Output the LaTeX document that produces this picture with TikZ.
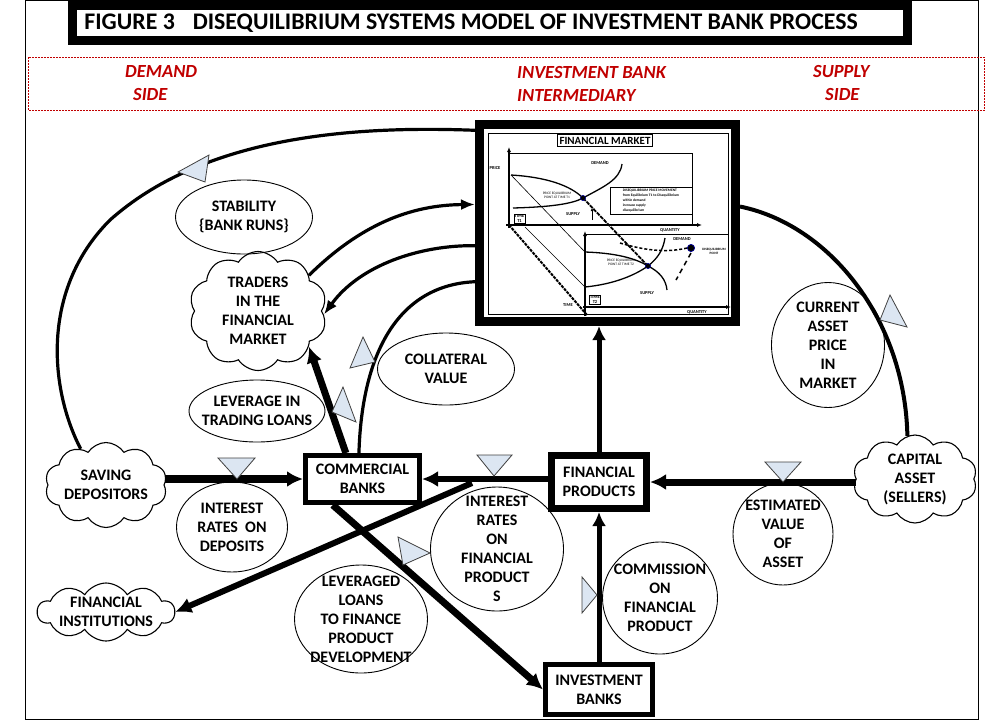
\documentclass[tikz,border=0pt]{standalone}
\usepackage{fontspec}
\setmainfont{Carlito}
\usetikzlibrary{arrows.meta,positioning,calc,shapes.geometric,shapes.symbols,backgrounds}
\definecolor{valveblue}{HTML}{DCE6F2}
\definecolor{sidered}{HTML}{C00000}
\newcommand{\nodefont}{\fontsize{16}{19}\selectfont\bfseries}
\newcommand{\sidefont}{\fontsize{18.5}{23}\selectfont\bfseries\itshape}
\newcommand{\headfont}{\fontsize{23.8}{28}\selectfont\bfseries}
\tikzset{
  bankbox/.style={draw=black, fill=white, align=center, inner sep=2pt, font=\nodefont},
  oval/.style={ellipse, draw=black, line width=0.9pt, align=center, inner sep=-20pt, font=\nodefont},
  puff/.style={cloud, cloud puffs=10, cloud puff arc=115, cloud ignores aspect, draw=black, line width=1.1pt, align=center, inner sep=-10pt, font=\nodefont},
  flow/.style={-{Latex[length=16pt,width=16pt]}, line width=7pt},
  curvelink/.style={line width=3.2pt},
  curvearrow/.style={-{Latex[length=14pt,width=11pt]}, line width=3.2pt},
  valve/.style={draw=black!75, fill=valveblue, line width=0.8pt, line join=miter},
  sidelabel/.style={anchor=west, align=left, inner sep=0pt, text=sidered, font=\sidefont},
  chartaxis/.style={-{Latex[length=5pt,width=4pt]}, line width=1.2pt},
  charttext/.style={font=\fontsize{4.5}{5}\selectfont\bfseries, align=center, inner sep=0.5pt}
}
\begin{document}
\begin{tikzpicture}[x=1pt,y=-1pt]
\useasboundingbox (0,0) rectangle (985,721);
\draw[line width=0.8pt] (25,0) rectangle (978,719);
% title and the three sides
\node[bankbox, line width=9pt, minimum width=835pt, minimum height=35pt, font=\headfont] (title) at (490,23) {FIGURE 3\hspace{18pt}DISEQUILIBRIUM SYSTEMS MODEL OF INVESTMENT BANK PROCESS\hspace*{38pt}};
\draw[sidered, line width=0.7pt, dash pattern=on 2pt off 1pt] (28,57) rectangle (984.5,110);
\node[sidelabel] (demand) at (125,83.5) {DEMAND\\\hspace*{8pt}SIDE};
\node[sidelabel] (intermediary) at (517,83.5) {INVESTMENT BANK\\INTERMEDIARY};
\node[sidelabel] (supply) at (813,83.5) {SUPPLY\\\hspace*{12pt}SIDE};
% market picture
\node[draw, line width=9pt, fill=white, minimum width=256pt, minimum height=197pt, inner sep=0pt] (market) at (607.5,223) {};
\draw[line width=1pt] (488,133) rectangle (728,314);
\node[draw, line width=0.8pt, fill=white, font=\fontsize{11}{12}\selectfont\bfseries, inner sep=2pt] (header) at (605,140.5) {FINANCIAL MARKET};
% time T1
\draw[line width=0.7pt] (509,153) rectangle (692,225);
\draw[line width=0.6pt] (511,175) -- (585,252);
\draw[line width=0.6pt] (525,227) -- (585,287);
\draw[line width=2pt, dash pattern=on 3pt off 1pt] (509,225) -- (587,315);
\draw[chartaxis] (509,228) -- (509,147);
\draw[chartaxis] (506,225) -- (702,225);
\draw[line width=1.3pt] (511,175) .. controls (545,177) and (570,185) .. (583,198);
\draw[line width=1.3pt] (513,208) .. controls (550,207) and (572,204) .. (583,198) .. controls (603,187) and (620,180) .. (622,164);
\draw[line width=1.8pt, dash pattern=on 4pt off 1pt] (583,198) -- (648,266);
\draw[-{Latex[length=3pt,width=3pt]}, line width=0.8pt] (592,220) -- (592,208);
\node[charttext] (pricelabel) at (495,168) {PRICE};
\node[charttext] (demandone) at (600,163) {DEMAND};
\node[charttext] (supplyone) at (573,214) {SUPPLY};
\node[charttext, font=\fontsize{3.5}{4}\selectfont] (eqone) at (557,195) {PRICE EQUILIBRIUM\\POINT AT TIME T1};
\node[draw, line width=0.5pt, fill=white, charttext] (timeone) at (519.5,218.5) {TIME\\T1};
\node[draw, line width=0.6pt, fill=white, charttext, font=\fontsize{3.6}{4.8}\selectfont\bfseries, align=left, minimum width=82pt, minimum height=27pt] (notebox) at (651,200.5) {DISEQUILIBRIUM PRICE MOVEMENT\\from Equilibrium T1 to Disequilibrium\\within demand\\increase supply\\disequilibrium};
\node[charttext] (qtyone) at (670,230) {QUANTITY};
\fill[black] (583,198) circle (2.6pt);
\draw[blue!60!black, line width=0.5pt] (583,198) circle (2.6pt);
% time T2
\draw[line width=0.7pt] (585,234) rectangle (728,307);
\draw[chartaxis] (585,316) -- (585,231);
\draw[chartaxis] (583,307) -- (731,307);
\draw[line width=1.3pt] (585,252) .. controls (615,253) and (635,258) .. (648,266);
\draw[line width=1.3pt] (585,287) .. controls (615,284) and (635,275) .. (648,266) .. controls (658,258) and (663,250) .. (665,238);
\draw[line width=1.3pt] (648,266) .. controls (660,272) and (666,280) .. (667,290);
\draw[line width=1.5pt, dash pattern=on 3pt off 2pt] (620,243) .. controls (650,252) and (670,252) .. (687,248);
\draw[line width=1.5pt, dash pattern=on 5pt off 4pt] (691,253) -- (676,280);
\node[charttext, font=\fontsize{3.5}{4}\selectfont] (eqtwo) at (621,262) {PRICE EQUILIBRIUM\\POINT AT TIME T2};
\node[charttext] (demandtwo) at (682,239) {DEMAND};
\node[charttext] (supplytwo) at (647,293) {SUPPLY};
\node[charttext] (timeaxis) at (568,305) {TIME};
\node[draw, line width=0.5pt, fill=white, charttext] (timetwo) at (595,299.5) {TIME\\T2};
\node[charttext] (qtytwo) at (697,312) {QUANTITY};
\node[charttext, font=\fontsize{3.3}{4}\selectfont\bfseries] (pointtwo) at (714,251) {DISEQUILIBRIUM\\POINT};
\fill[black] (648,266) circle (2.6pt);
\draw[blue!60!black, line width=0.5pt] (648,266) circle (2.6pt);
\fill[black] (691,248) circle (3.6pt);
\draw[blue!60!black, line width=0.7pt] (691,248) circle (3.6pt);
% demand side
\node[puff, minimum width=138pt, minimum height=119pt] (traders) at (258,311) {TRADERS\\IN THE\\FINANCIAL\\MARKET};
\node[oval, minimum width=137pt, minimum height=74pt] (stability) at (244,217) {STABILITY\\\{BANK RUNS\}};
\node[oval, minimum width=136pt, minimum height=62pt] (leverage) at (257,411) {LEVERAGE IN\\TRADING LOANS};
\node[oval, minimum width=137pt, minimum height=72pt] (collateral) at (446,369) {COLLATERAL\\VALUE};
\node[puff, minimum width=122pt, minimum height=85pt] (savers) at (106,485) {SAVING\\DEPOSITORS};
\node[oval, minimum width=111pt, minimum height=90pt] (depositrate) at (232,527) {INTEREST\\RATES\ \ ON\\DEPOSITS};
\node[puff, minimum width=137pt, minimum height=58pt] (institutions) at (106,612) {FINANCIAL\\INSTITUTIONS};
% intermediary
\node[bankbox, line width=5pt, minimum width=114pt, minimum height=47pt] (commercial) at (362.5,479) {COMMERCIAL\\BANKS};
\node[bankbox, line width=7pt, minimum width=95pt, minimum height=53pt] (products) at (599,482) {FINANCIAL\\PRODUCTS};
\node[bankbox, line width=5pt, minimum width=107pt, minimum height=50pt] (investment) at (599,689.5) {INVESTMENT\\BANKS};
\node[oval, minimum width=133pt, minimum height=124pt] (productrate) at (497,549) {INTEREST\\RATES\\ON\\FINANCIAL\\PRODUCT\\S};
\node[oval, minimum width=133pt, minimum height=108pt] (loans) at (361,619) {LEVERAGED\\LOANS\\TO FINANCE\\PRODUCT\\DEVELOPMENT};
\node[oval, minimum width=115pt, minimum height=112pt] (commission) at (660,598) {COMMISSION\\ON\\FINANCIAL\\PRODUCT};
% supply side
\node[oval, minimum width=100pt, minimum height=102pt] (estimate) at (783,534) {ESTIMATED\\VALUE\\OF\\ASSET};
\node[puff, minimum width=124pt, minimum height=88pt] (capital) at (915,479) {CAPITAL\\ASSET\\(SELLERS)};
\node[oval, minimum width=113pt, minimum height=125pt] (currentprice) at (828,345) {CURRENT\\ASSET\\PRICE\\IN\\MARKET};
% connectors
\begin{scope}[on background layer]
\draw[flow, line width=8pt] (savers.east |- commercial.west) -- (commercial.west);
\draw[flow, line width=6pt] (products.west |- commercial.east) -- (commercial.east);
\draw[flow] (capital.west |- products.east) -- (products.east);
\draw[flow, line width=5pt, -{Latex[length=14pt,width=14pt]}] (investment.north) -- (products.south);
\draw[flow, line width=5pt, -{Latex[length=14pt,width=14pt]}] (products.north) -- (products.north |- market.south);
\draw[flow] ($(commercial.south west)!0.25!(commercial.south east)$) -- (investment.west);
\coordinate (fork) at (472,483);
\draw[flow, line width=6pt] (fork) -- (institutions.east);
\draw[flow] ($(commercial.north west)!0.36!(commercial.north east)$) -- (traders.-35);
\draw[curvearrow] (traders.35) .. controls (360,225) and (410,205) .. ($(market.north west)!0.41!(market.south west)$);
\draw[curvearrow] ($(market.north west)!0.61!(market.south west)$) .. controls (420,245) and (360,265) .. (traders.-3);
\draw[curvelink] ($(commercial.north west)!0.47!(commercial.north east)$) .. controls (362,350) and (400,285) .. ($(market.north west)!0.785!(market.south west)$);
\draw[curvelink] (savers.125) .. controls (50,390) and (40,290) .. (110,220) .. controls (200,140) and (340,125) .. ($(market.north west)!0.05!(market.south west)$);
\draw[curvelink, line width=4pt] ($(market.north east)!0.42!(market.south east)$) .. controls (830,225) and (905,320) .. (capital.100);
\end{scope}
% valves
\draw[valve] (218,458) -- (255,458) -- (237,479) -- cycle;
\draw[valve] (477,455) -- (512,455) -- (494,476) -- cycle;
\draw[valve] (765,462) -- (801,462) -- (783,482) -- cycle;
\draw[valve] (398,537) -- (430,553) -- (403,565) -- cycle;
\draw[valve] (582,577) -- (597,595) -- (582,613) -- cycle;
\draw[valve] (363,337) -- (375,362) -- (350,368) -- cycle;
\draw[valve] (343,387) -- (356,422) -- (332,412) -- cycle;
\draw[valve] (178,172) -- (209,155) -- (205,182) -- cycle;
\draw[valve] (890,295) -- (907,327) -- (880,320) -- cycle;
\end{tikzpicture}
\end{document}
